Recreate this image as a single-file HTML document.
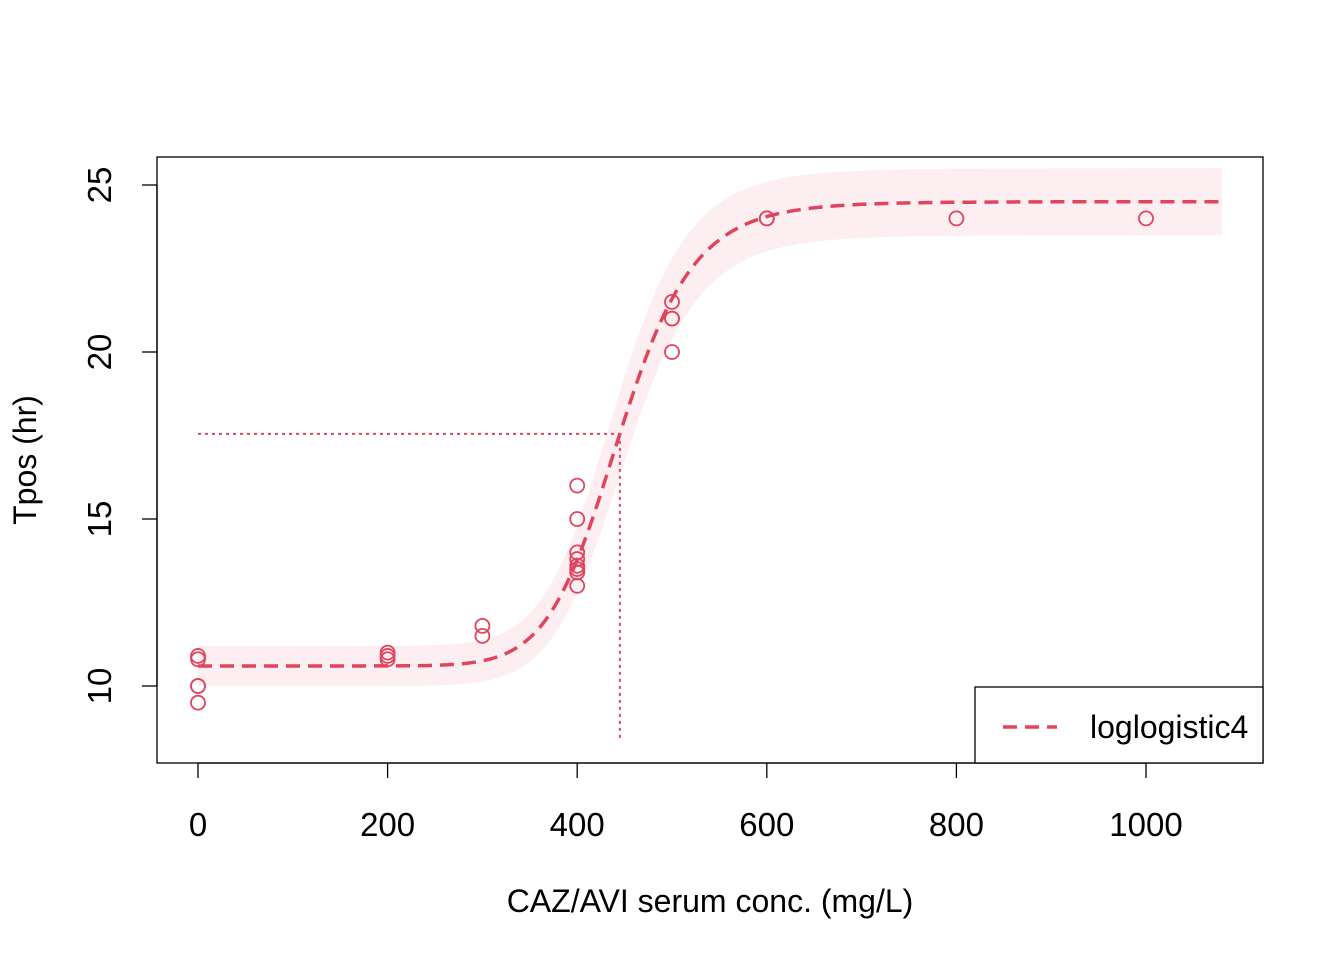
<!DOCTYPE html>
<html><head><meta charset="utf-8"><style>
body{margin:0;background:#fff}
svg{display:block;font-family:"Liberation Sans",Arial,sans-serif}
</style></head><body>
<svg id="chart" width="1344" height="960" viewBox="0 0 1344 960">
<rect x="0" y="0" width="1344" height="960" fill="#fff"/>
<g id="band"></g>
<g id="refs"></g>
<g id="curve"></g>
<g id="pts"></g>
<rect x="157" y="157" width="1106" height="606" fill="none" stroke="#000" stroke-width="1.3"/>
<g id="axes"></g>
<text x="710" y="912" font-size="32" text-anchor="middle">CAZ/AVI serum conc. (mg/L)</text>
<text transform="translate(36,460) rotate(-90)" font-size="32" text-anchor="middle">Tpos (hr)</text>
<g>
<rect x="975" y="687" width="288" height="76" fill="#fff" stroke="#000" stroke-width="1.3"/>
<line x1="1003" y1="727" x2="1057" y2="727" stroke="#E0455E" stroke-width="3.5" stroke-dasharray="14,8"/>
<text x="1090" y="738" font-size="32">loglogistic4</text>
</g>
</svg>
<script>
const xData=[0,0,0,0,0,200,200,200,300,300,400,400,400,400,400,400,400,400,500,500,500,500,600,600,800,1000];
const yData=[10.9,10.8,10,10,9.5,11,10.9,10.8,11.8,11.5,16,15,14,13.8,13.6,13.5,13.4,13,21.5,21,21,20,24,24,24,24];
const fitParams=[11.4,10.6,24.5,445]; // b, c, d, e
const xTicks=[0,200,400,600,800,1000];
const yTicks=[10,15,20,25];
const NS='http://www.w3.org/2000/svg';
const col='#E0455E';
function X(v){return 198+v*0.948;}
function Y(v){return 686-(v-10)*33.4;}
function f(x,b,c,d,e){if(x<=0)return c;return c+(d-c)/(1+Math.exp(-b*(Math.log(x)-Math.log(e))));}
function mk(t,a,p){const el=document.createElementNS(NS,t);for(const k in a)el.setAttribute(k,a[k]);document.getElementById(p).appendChild(el);return el;}
const [b,c,d,e]=fitParams;
let up=[],lo=[],mid=[];
for(let x=0;x<=1080;x+=4){
  up.push(X(x).toFixed(1)+','+Y(f(x,b,c+0.6,d+1,e-5)).toFixed(1));
  lo.push(X(x).toFixed(1)+','+Y(f(x,b,c-0.6,d-1,e+5)).toFixed(1));
  mid.push(X(x).toFixed(1)+','+Y(f(x,b,c,d,e)).toFixed(1));
}
let el=mk('polygon',{points:up.concat(lo.reverse()).join(' '),fill:'#FCEEF1'},'band');


const ey=(c+d)/2;
el=mk('line',{x1:X(0),y1:Y(ey),x2:X(e),y2:Y(ey),stroke:col,'stroke-width':2,'stroke-dasharray':'3,4'},'refs');


el=mk('line',{x1:X(e),y1:Y(ey),x2:X(e),y2:Y(8.4),stroke:col,'stroke-width':2,'stroke-dasharray':'3,4'},'refs');


el=mk('polyline',{points:mid.join(' '),fill:'none',stroke:col,'stroke-width':3.5,'stroke-dasharray':'14,8'},'curve');


for(let i=0;i<xData.length;i++){
  el=mk('circle',{cx:X(xData[i]),cy:Y(yData[i]),r:7,fill:'none',stroke:col,'stroke-width':1.8},'pts');
  
  
}
el=mk('line',{x1:X(xTicks[0]),y1:763,x2:X(xTicks[xTicks.length-1]),y2:763,stroke:'#000','stroke-width':1.3},'axes');


for(const t of xTicks){
  el=mk('line',{x1:X(t),y1:763,x2:X(t),y2:778,stroke:'#000','stroke-width':1.3},'axes');
  
  
  el=mk('text',{x:X(t),y:836,'font-size':33,'text-anchor':'middle'},'axes');
  el.textContent=t;
  
  
}
el=mk('line',{x1:157,y1:Y(yTicks[0]),x2:157,y2:Y(yTicks[yTicks.length-1]),stroke:'#000','stroke-width':1.3},'axes');


for(const t of yTicks){
  el=mk('line',{x1:142,y1:Y(t),x2:157,y2:Y(t),stroke:'#000','stroke-width':1.3},'axes');
  
  
  el=mk('text',{transform:'translate(111,'+Y(t)+') rotate(-90)','font-size':33,'text-anchor':'middle'},'axes');
  el.textContent=t;
  
  
}
</script>
</body></html>
